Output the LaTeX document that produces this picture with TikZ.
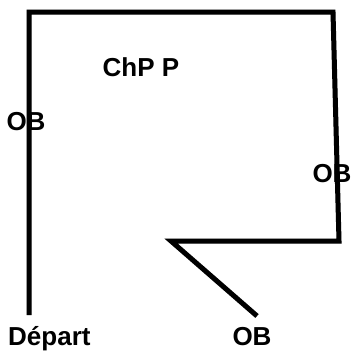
\documentclass[tikz,border=0pt]{standalone}
\usepackage{fontspec}
\setmainfont{Liberation Sans}
\tikzset{wall/.style={line width=5bp,line cap=butt,line join=miter},
shade wall/.style={wall,black!12,shift={(1.5,1.5)}},
lbl/.style={inner sep=0pt,font=\bfseries\fontsize{26bp}{30bp}\selectfont}}
\begin{document}
\begin{tikzpicture}[x=1bp,y=-1bp]
\useasboundingbox(0,0) rectangle (353,354);
\coordinate(depart) at (29,315);
\coordinate(nw) at (29,12);
\coordinate(ne) at (333,12);
\coordinate(se) at (339,241);
\coordinate(sw) at (171,241);
\coordinate(tip) at (257,316);
\draw[shade wall](depart)--(nw)--(ne)--(se)--(sw)--(tip);
\draw[wall](depart)--(nw)--(ne)--(se)--(sw)--(tip);
\node[lbl] (chp) at (141,67) {ChP P};
\node[lbl] (obl) at (26,121.5) {OB};
\node[lbl] (obr) at (332,174) {OB};
\node[lbl] (obb) at (252,336.5) {OB};
\node[lbl,anchor=base west] (dep) at (8,345) {Départ};
\end{tikzpicture}
\end{document}
